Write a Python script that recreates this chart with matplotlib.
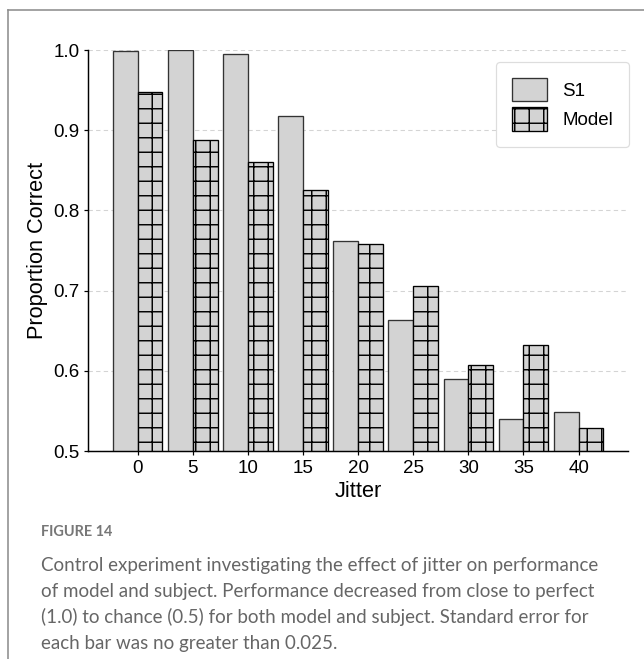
#!/usr/bin/env python3
"""Jitter control experiment: proportion correct for subject S1 vs model."""
import matplotlib

matplotlib.use("Agg")
import matplotlib.pyplot as plt
import numpy as np
from matplotlib.lines import Line2D

# values
jitter = [0, 5, 10, 15, 20, 25, 30, 35, 40]
s1_correct = [0.998, 1.000, 0.995, 0.918, 0.762, 0.663, 0.590, 0.540, 0.549]
model_correct = [0.948, 0.888, 0.860, 0.825, 0.758, 0.705, 0.607, 0.632, 0.529]
series_labels = ["S1", "Model"]
y_ticks = [0.5, 0.6, 0.7, 0.8, 0.9, 1.0]

caption_head = "FIGURE 14"
caption_lines = [
    "Control experiment investigating the effect of jitter on performance",
    "of model and subject. Performance decreased from close to perfect",
    "(1.0) to chance (0.5) for both model and subject. Standard error for",
    "each bar was no greater than 0.025.",
]

DPI = 87
plt.rcParams["font.family"] = ["Liberation Sans", "DejaVu Sans"]
plt.rcParams["hatch.color"] = "black"
plt.rcParams["hatch.linewidth"] = 1.2

fig = plt.figure(figsize=(644.2 / DPI, 659.2 / DPI), dpi=DPI)
ax = fig.add_axes([0.1371, 0.3156, 0.9747 - 0.1371, 0.9241 - 0.3156])

x = np.array(jitter, dtype=float)
w = 2.25
ax.bar(x - w / 2, s1_correct, width=w, color="#d3d3d3", edgecolor="#333333",
       linewidth=1.1, label=series_labels[0], zorder=2)
ax.bar(x + w / 2, model_correct, width=w, color="#d3d3d3", edgecolor="black",
       linewidth=1.1, hatch="+", label=series_labels[1], zorder=2)

ax.set_ylim(0.5, 1.0)
ax.set_yticks(y_ticks)
ax.set_yticklabels([f"{v:.1f}" for v in y_ticks])
ax.set_xticks(jitter)
ax.set_xticklabels([str(j) for j in jitter])
ax.tick_params(axis="both", labelsize=15.5, length=3.5, width=1.0, pad=3.5, colors="black")

ax.set_axisbelow(True)
ax.yaxis.grid(True, linestyle=(0, (4, 3)), color="#d4d4d4", linewidth=0.9)
for side in ("top", "right"):
    ax.spines[side].set_visible(False)
for side in ("left", "bottom"):
    ax.spines[side].set_linewidth(1.2)

ax.set_xlabel("Jitter", fontsize=18, labelpad=4)
ax.set_ylabel("Proportion Correct", fontsize=18, labelpad=5)

leg = ax.legend(loc="upper right", bbox_to_anchor=(1.002, 0.97), borderaxespad=0,
                fontsize=15.5, handlelength=1.9, handleheight=1.55, labelspacing=0.32,
                handletextpad=0.8, borderpad=0.85, fancybox=True, framealpha=1)
leg.get_frame().set_edgecolor("#dddddd")
leg.get_frame().set_linewidth(1.0)

# outer panel frame (left and top edges)
fig.add_artist(Line2D([7.5 / 644, 7.5 / 644], [0, 1 - 10 / 659], transform=fig.transFigure,
                      color="#8c8c8c", linewidth=1.3))
fig.add_artist(Line2D([7.5 / 644, 1], [1 - 10 / 659, 1 - 10 / 659], transform=fig.transFigure,
                      color="#8c8c8c", linewidth=1.3))

fig.text(41 / 644, 1 - 532 / 659, caption_head, fontsize=12, color="#777777",
         fontweight="bold", family=["Lato", "DejaVu Sans"], va="center")
for i, line in enumerate(caption_lines):
    fig.text(41 / 644, 1 - (565 + 26 * i) / 659, line, fontsize=15.5, color="#666666",
             family=["Lato", "DejaVu Sans"], va="center")

fig.savefig("out.png", dpi=DPI, facecolor="white")
